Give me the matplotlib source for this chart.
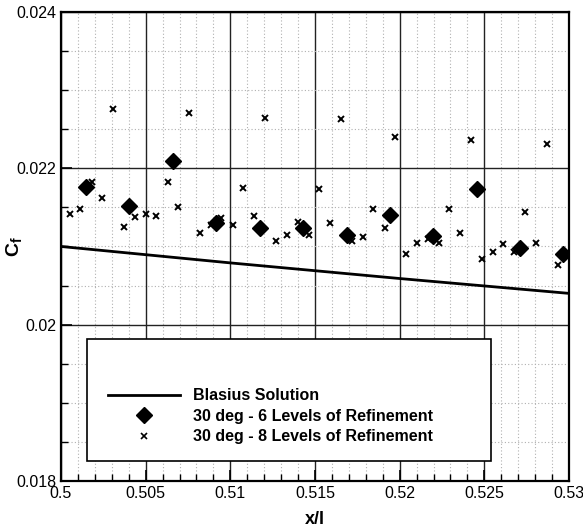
import numpy as np
import matplotlib
matplotlib.use("Agg")
import matplotlib.pyplot as plt
from matplotlib.patches import Rectangle
from matplotlib.lines import Line2D
from matplotlib.ticker import MultipleLocator, FormatStrFormatter

plt.rcParams["font.family"] = ["Liberation Sans", "DejaVu Sans"]
plt.rcParams["mathtext.fontset"] = "custom"
plt.rcParams["mathtext.rm"] = "Liberation Sans"
plt.rcParams["mathtext.bf"] = "Liberation Sans:bold"

# Blasius skin friction
x_blasius = [0.500, 0.510, 0.520, 0.530]
cf_blasius = [0.02100, 0.02079, 0.02059, 0.02040]

# 30 deg, 6 levels of refinement
x_ref6 = [0.50148, 0.50404, 0.50663, 0.50915, 0.51175, 0.51431, 0.51687,
          0.51943, 0.52199, 0.52455, 0.52711, 0.52967]
cf_ref6 = [0.02176, 0.02152, 0.02209, 0.02130, 0.02124, 0.02124, 0.02115,
           0.02140, 0.02114, 0.02173, 0.02098, 0.02090]

# 30 deg, 8 levels of refinement
x_ref8 = [0.50051, 0.50114, 0.50181, 0.50244, 0.50307, 0.50372, 0.50437,
          0.50500, 0.50563, 0.50630, 0.50693, 0.50756, 0.50819, 0.50884,
          0.50947, 0.51014, 0.51077, 0.51142, 0.51205, 0.51270, 0.51335,
          0.51398, 0.51463, 0.51526, 0.51589, 0.51654, 0.51719, 0.51782,
          0.51845, 0.51912, 0.51975, 0.52038, 0.52101, 0.52167, 0.52231,
          0.52293, 0.52358, 0.52421, 0.52486, 0.52549, 0.52612, 0.52677,
          0.52742, 0.52807, 0.52870, 0.52935]
cf_ref8 = [0.02142, 0.02148, 0.02183, 0.02162, 0.02276, 0.02125, 0.02138,
           0.02142, 0.02139, 0.02182, 0.02151, 0.02271, 0.02117, 0.02127,
           0.02136, 0.02127, 0.02175, 0.02139, 0.02265, 0.02107, 0.02115,
           0.02131, 0.02115, 0.02173, 0.02130, 0.02263, 0.02107, 0.02112,
           0.02148, 0.02124, 0.02240, 0.02091, 0.02104, 0.02109, 0.02104,
           0.02148, 0.02117, 0.02236, 0.02084, 0.02093, 0.02103, 0.02093,
           0.02144, 0.02105, 0.02231, 0.02076]

labels = ["Blasius Solution",
          "30 deg - 6 Levels of Refinement",
          "30 deg - 8 Levels of Refinement"]

fig = plt.figure(figsize=(5.83, 5.30), dpi=100)
ax = fig.add_axes([0.1046, 0.0925, 0.8714, 0.8849])

ax.plot(x_blasius, cf_blasius, color="black", lw=2, zorder=3)
ax.plot(x_ref6, cf_ref6, ls="none", marker="D", ms=8, color="black", zorder=3)
ax.plot(x_ref8, cf_ref8, ls="none", marker="x", ms=5, mew=1.4, color="black", zorder=3)

ax.set_xlim(0.5, 0.53)
ax.set_ylim(0.018, 0.024)
ax.xaxis.set_major_locator(MultipleLocator(0.005))
ax.xaxis.set_minor_locator(MultipleLocator(0.001))
ax.yaxis.set_major_locator(MultipleLocator(0.002))
ax.yaxis.set_minor_locator(MultipleLocator(0.0005))
ax.xaxis.set_major_formatter(FormatStrFormatter("%g"))
ax.yaxis.set_major_formatter(FormatStrFormatter("%g"))

ax.set_axisbelow(True)
ax.grid(which="major", color="#222222", lw=1.0, ls="-")
ax.grid(which="minor", color="#b0b0b0", lw=0.8, ls=(0, (1, 2)))
ax.tick_params(which="both", direction="in", top=False, right=False,
               labelsize=11.5, colors="black")
ax.tick_params(which="major", length=8, width=1.2)
ax.tick_params(which="minor", length=5, width=1)
for sp in ax.spines.values():
    sp.set_linewidth(1.6)

ax.set_xlabel("x/l", fontsize=13, fontweight="bold")
ax.xaxis.set_label_coords(0.5, -0.065)
ax.set_ylabel(r"$\mathbf{C_f}$", fontsize=14)
ax.yaxis.set_label_coords(-0.073, 0.5)

# legend frame
ax.add_patch(Rectangle((0.0506, 0.043), 0.7954, 0.2605, transform=ax.transAxes,
                       facecolor="white", edgecolor="black", lw=1.2, zorder=5))
handles = [Line2D([], [], color="black", lw=2),
           Line2D([], [], ls="none", marker="D", ms=8, color="black"),
           Line2D([], [], ls="none", marker="x", ms=5, mew=1.2, color="black")]
leg = ax.legend(handles, labels, loc="upper left", bbox_to_anchor=(0.0925, 0.198),
                frameon=False, prop={"weight": "bold", "size": 11.5},
                handlelength=4.5, handletextpad=0.8, labelspacing=0.35,
                borderpad=0, borderaxespad=0)
leg.set_zorder(6)

fig.savefig("out.png", dpi=100)
